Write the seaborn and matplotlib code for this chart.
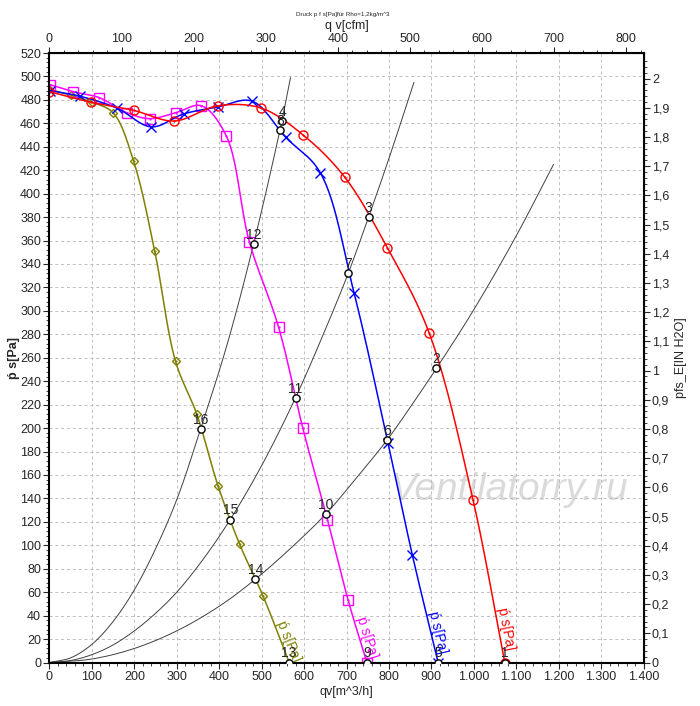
import numpy as np
import matplotlib
matplotlib.use("Agg")
import matplotlib.pyplot as plt
import seaborn as sns
from matplotlib.ticker import MultipleLocator, FixedLocator, FuncFormatter

# fan curves: qv [m^3/h] / ps [Pa]
red_q = [0, 98, 199, 294, 397, 499, 598, 696, 796, 895, 998, 1073]
red_p = [487, 478, 471, 462, 475, 473, 450, 414, 354, 281, 139, 0]
blue_q = [1, 73, 159, 240, 316, 397, 477, 557, 638, 718, 798, 855, 916]
blue_p = [488, 483, 473, 457, 468, 474, 479, 448, 418, 315, 187, 92, 0]
pink_q = [1, 56, 117, 183, 236, 297, 358, 417, 471, 540, 597, 655, 704, 748]
pink_p = [493, 487, 482, 469, 464, 469, 475, 449, 359, 286, 200, 122, 53, 0]
olive_q = [0, 50, 100, 150, 198, 248, 297, 347, 397, 448, 503, 565]
olive_p = [489, 484, 478, 469, 428, 351, 257, 212, 151, 101, 57, 0]

# system curves
sysA_q = [0, 50, 100, 150, 200, 250, 300, 356, 420, 481, 543, 568]
sysA_p = [0, 4, 15.5, 35, 62, 97, 139, 199, 273, 357, 454, 499]
sysB_q = [0, 50, 100, 150, 200, 250, 300, 360, 426, 500, 580, 650, 704, 752, 800, 859]
sysB_p = [0, 1.7, 6.7, 15, 27, 42, 60, 87, 122, 168, 226, 284, 332, 380, 430, 495]
sysC_q = [0, 100, 200, 300, 400, 485, 570, 652, 720, 796, 860, 912, 1000, 1100, 1188]
sysC_p = [0, 3, 12, 27, 48, 71, 98, 127, 156, 190, 223, 251, 301, 364, 425]

# operating points
op_num = list(range(1, 17))
op_q = [1073, 912, 752, 549, 916, 796, 704, 543, 748, 652, 580, 481, 564, 485, 426, 356]
op_p = [0, 251, 380, 462, 0, 190, 332, 454, 0, 127, 226, 357, 0, 71, 122, 199]

RED, BLUE, PINK, OLIVE = "#ff0000", "#0000ff", "#ff00ff", "#808000"


def smooth(q, p, n=30):
    # centripetal catmull-rom, only for drawing the line through the points
    pts = np.column_stack([np.asarray(q, float) / 1400, np.asarray(p, float) / 520 * 1.026])
    P = np.vstack([2 * pts[0] - pts[1], pts, 2 * pts[-1] - pts[-2]])
    out = []
    for i in range(1, len(P) - 2):
        p0, p1, p2, p3 = P[i - 1], P[i], P[i + 1], P[i + 2]
        t0 = 0.0
        t1 = t0 + np.linalg.norm(p1 - p0) ** 0.5
        t2 = t1 + np.linalg.norm(p2 - p1) ** 0.5
        t3 = t2 + np.linalg.norm(p3 - p2) ** 0.5
        t = np.linspace(t1, t2, n)[:, None]
        A1 = (t1 - t) / (t1 - t0) * p0 + (t - t0) / (t1 - t0) * p1
        A2 = (t2 - t) / (t2 - t1) * p1 + (t - t1) / (t2 - t1) * p2
        A3 = (t3 - t) / (t3 - t2) * p2 + (t - t2) / (t3 - t2) * p3
        B1 = (t2 - t) / (t2 - t0) * A1 + (t - t0) / (t2 - t0) * A2
        B2 = (t3 - t) / (t3 - t1) * A2 + (t - t1) / (t3 - t1) * A3
        out.append((t2 - t) / (t2 - t1) * B1 + (t - t1) / (t2 - t1) * B2)
    xy = np.vstack(out)
    return xy[:, 0] * 1400, xy[:, 1] * 520 / 1.026


sns.set_style("ticks")
plt.rcParams["font.family"] = ["Liberation Sans", "DejaVu Sans"]
plt.rcParams["font.size"] = 9

fig = plt.figure(figsize=(7.0, 7.06), dpi=100)
ax = fig.add_axes([0.0707, 0.0616, 0.8486, 0.8633])

# system curves
for q, p in [(sysA_q, sysA_p), (sysB_q, sysB_p), (sysC_q, sysC_p)]:
    sx, sy = smooth(q, p)
    sns.lineplot(x=sx, y=sy, sort=False, estimator=None, color="#404040", lw=0.7, ax=ax)

# fan curves + markers
curves = [
    (olive_q, olive_p, OLIVE, "D", 4.5),
    (pink_q, pink_p, PINK, "s", 6.5),
    (blue_q, blue_p, BLUE, "x", 7.5),
    (red_q, red_p, RED, "o", 6.5),
]
for q, p, col, mk, ms in curves:
    sx, sy = smooth(q, p)
    sns.lineplot(x=sx, y=sy, sort=False, estimator=None, color=col, lw=1.1, ax=ax)
    sns.lineplot(x=q, y=p, sort=False, estimator=None, color=col, linestyle="",
                 marker=mk, markersize=ms, markerfacecolor="none",
                 markeredgecolor=col, markeredgewidth=1.0, ax=ax)
    if mk != "x":
        sns.lineplot(x=q, y=p, sort=False, estimator=None, color=col, linestyle="",
                     marker="o", markersize=1.6, markeredgewidth=0, ax=ax)

# operating points
sns.lineplot(x=op_q, y=op_p, sort=False, estimator=None, linestyle="", marker="o",
             markersize=5.2, markerfacecolor="white", markeredgecolor="black",
             markeredgewidth=1.0, color="black", ax=ax, zorder=5)
for n, q, p in zip(op_num, op_q, op_p):
    ax.annotate(str(n), (q, p), xytext=(0, 1.5), textcoords="offset points",
                ha="center", va="bottom", fontsize=10, zorder=6)

# curve labels
lab = "\u1e55 s[Pa]"
for x, y, col, rot in [(563, 18, OLIVE, -68), (749, 21, PINK, -73),
                       (914, 26, BLUE, -77), (1077, 29, RED, -79)]:
    ax.text(x, y, lab, color=col, rotation=rot, ha="center", va="center",
            fontsize=10, rotation_mode="anchor")

ax.text(1083, 147, "Ventilatorry.ru", fontsize=28, style="italic", color="#dadada",
        ha="center", va="center", zorder=0.5)

ax.set_xlim(0, 1400)
ax.set_ylim(0, 520)
ax.xaxis.set_major_locator(MultipleLocator(100))
ax.xaxis.set_minor_locator(MultipleLocator(20))
ax.yaxis.set_major_locator(MultipleLocator(20))
ax.yaxis.set_minor_locator(MultipleLocator(4))
ax.xaxis.set_major_formatter(FuncFormatter(lambda v, _: f"{int(v):,}".replace(",", ".")))
ax.grid(True, which="major", color="#bdbdbd", linestyle=(0, (3, 3)), lw=0.7)
ax.set_xlabel("qv[m^3/h]", fontsize=9, labelpad=2)
ax.set_ylabel(lab, fontsize=9, fontweight="bold")
ax.yaxis.set_label_coords(-0.05, 0.5)
ax.tick_params(which="major", length=4, width=0.8, labelsize=9, pad=2)
ax.tick_params(which="minor", length=2, width=0.6)
for s in ax.spines.values():
    s.set_linewidth(1.5)
    s.set_color("black")

top = ax.secondary_xaxis("top", functions=(lambda x: x / 1.699, lambda x: x * 1.699))
top.xaxis.set_major_locator(FixedLocator(np.arange(0, 801, 100)))
top.xaxis.set_minor_locator(FixedLocator(np.arange(0, 821, 20)))
top.tick_params(which="major", length=4, width=0.8, labelsize=9, pad=2)
top.tick_params(which="minor", length=2, width=0.6)
top.set_xlabel("q v[cfm]", fontsize=9, labelpad=3)

right = ax.secondary_yaxis("right", functions=(lambda y: y / 249.09, lambda y: y * 249.09))
right.yaxis.set_major_locator(FixedLocator(np.round(np.arange(0, 2.05, 0.1), 1)))
right.yaxis.set_minor_locator(FixedLocator(np.arange(0, 2.08, 0.02)))
right.yaxis.set_major_formatter(
    FuncFormatter(lambda v, _: (f"{v:.1f}".replace(".", ",")).replace(",0", "")))
right.tick_params(which="major", length=4, width=0.8, labelsize=9, pad=2)
right.tick_params(which="minor", length=2, width=0.6)
right.set_ylabel("pfs_E[IN H2O]", fontsize=9, labelpad=4)

fig.text(0.49, 0.979, "Druck p f s[Pa]für Rho=1,2kg/m^3", fontsize=4.5, ha="center", va="center")

fig.savefig("out.png", dpi=100)
